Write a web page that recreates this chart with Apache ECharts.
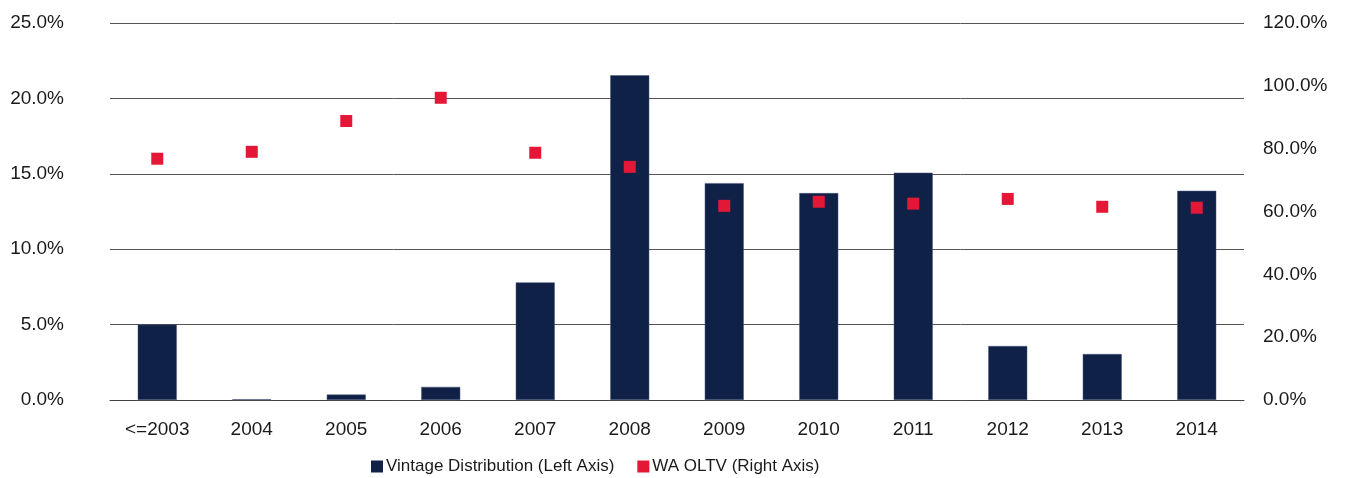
<!DOCTYPE html>
<html>
<head>
<meta charset="utf-8">
<script src="https://cdn.jsdelivr.net/npm/echarts@6/dist/echarts.min.js"></script>
<style>
html,body{margin:0;padding:0;background:#fff;}
#chart{width:1351px;height:478px;}
</style>
</head>
<body>
<div id="chart"></div>
<script>
const categories = ['<=2003','2004','2005','2006','2007','2008','2009','2010','2011','2012','2013','2014'];
const vintageDistribution = [5.0, 0.05, 0.36, 0.87, 7.8, 21.53, 14.38, 13.72, 15.07, 3.58, 3.05, 13.87];
const waOLTV = [76.8, 79.0, 88.8, 96.2, 78.7, 74.2, 61.8, 63.1, 62.5, 64.0, 61.5, 61.2];
const seriesNames = ['Vintage Distribution (Left Axis)', 'WA OLTV (Right Axis)'];

const chart = echarts.init(document.getElementById('chart'));
const fontFamily = 'Liberation Sans, Arial, Helvetica, sans-serif';
const textColor = '#1a1a1a';
const barColor = '#0F2147';
const dotColor = '#E31837';
chart.setOption({
  animation: false,
  textStyle: {fontFamily: fontFamily},
  grid: {left: 110, right: 107, top: 23, bottom: 78, containLabel: false},
  legend: {
    top: 453, left: 366,
    itemWidth: 12, itemHeight: 12, itemGap: 23,
    textStyle: {fontSize: 17, color: textColor, fontFamily: fontFamily, padding: [0,0,0,-2]},
    data: [
      {name: seriesNames[0], icon: 'rect', itemStyle: {color: barColor, borderWidth: 0}},
      {name: seriesNames[1], icon: 'rect', itemStyle: {color: dotColor, borderWidth: 0}}
    ]
  },
  xAxis: {
    type: 'category',
    data: categories,
    axisLine: {show: true, lineStyle: {color: '#444', width: 1}},
    axisTick: {show: false},
    axisLabel: {fontSize: 19, color: textColor, margin: 20, interval: 0}
  },
  yAxis: [{
    type: 'value', min: 0, max: 25, interval: 5,
    axisLine: {show: false}, axisTick: {show: false},
    axisLabel: {fontSize: 19, color: textColor, margin: 46, formatter: v => v.toFixed(1) + '%'},
    splitLine: {show: true, lineStyle: {color: '#555', width: 1}}
  }, {
    type: 'value', min: 0, max: 120, interval: 20,
    axisLine: {show: false}, axisTick: {show: false},
    axisLabel: {fontSize: 19, color: textColor, margin: 19, formatter: v => v.toFixed(1) + '%'},
    splitLine: {show: false}
  }],
  series: [{
    name: seriesNames[0],
    type: 'bar',
    yAxisIndex: 0,
    data: vintageDistribution,
    barWidth: 39,
    itemStyle: {color: barColor, borderColor: '#4a5878', borderWidth: 0.5}
  }, {
    name: seriesNames[1],
    type: 'scatter',
    yAxisIndex: 1,
    data: waOLTV,
    symbol: 'rect',
    symbolSize: 12,
    itemStyle: {color: dotColor, opacity: 1}
  }]
});
</script>
</body>
</html>
